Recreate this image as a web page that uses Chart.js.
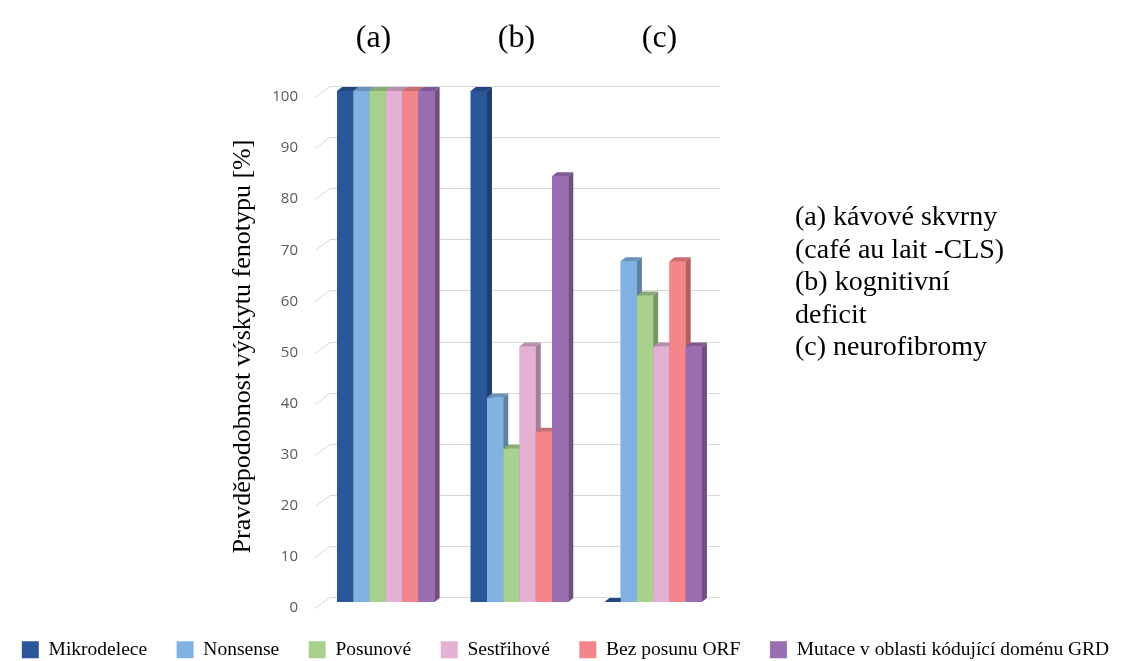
<!DOCTYPE html>
<html>
<head>
<meta charset="utf-8">
<script src="https://cdn.jsdelivr.net/npm/chart.js@4.4.1/dist/chart.umd.min.js"></script>
<style>
  html, body { margin: 0; padding: 0; background: #fff; }
</style>
</head>
<body>
<canvas id="fenotypChart" width="1131" height="661"></canvas>
<script>
// ===== data =====
const categories = ["(a)", "(b)", "(c)"];
const seriesNames = ["Mikrodelece", "Nonsense", "Posunové", "Sestřihové", "Bez posunu ORF", "Mutace v oblasti kódující doménu GRD"];
const mikrodelece = [100, 100, 0];
const nonsense = [100, 40, 66.7];
const posunove = [100, 30, 60];
const sestrihove = [100, 50, 50];
const bezPosunu = [100, 33.3, 66.7];
const mutaceGrd = [100, 83.3, 50];
const yTicks = [0, 10, 20, 30, 40, 50, 60, 70, 80, 90, 100];
const notes = ["(a) kávové skvrny", "(café au lait -CLS)", "(b) kognitivní", "deficit", "(c) neurofibromy"];

const seriesColors = ["#2b579a", "#80b3e1", "#a7d18d", "#e4b0d4", "#f4858a", "#9b6eb4"];
const serif = "'Liberation Serif', 'Times New Roman', serif";

// darker tone for the 3D faces
const shade = (hex, f) => {
  const n = parseInt(hex.slice(1), 16);
  const r = (n >> 16) & 255, g = (n >> 8) & 255, b = n & 255;
  return `rgb(${Math.round(r * f)},${Math.round(g * f)},${Math.round(b * f)})`;
};

const DX = 5, DY = 4;

// ===== plugins =====
const grid3d = {
  id: "grid3d",
  beforeDatasetsDraw(chart) {
    const { ctx, chartArea } = chart;
    const y = chart.scales.y;
    ctx.save();
    ctx.strokeStyle = "#d9d9d9";
    ctx.lineWidth = 1;
    y.ticks.forEach(t => {
      const py = Math.round(y.getPixelForValue(t.value)) + 0.5;
      ctx.beginPath();
      ctx.moveTo(chartArea.left - 4, py + 6);
      ctx.lineTo(chartArea.left + 11, py - 5);
      ctx.lineTo(chartArea.right, py - 5);
      ctx.stroke();
    });
    ctx.restore();
  }
};

// chart.js paints datasets last-to-first, so repaint them in order with depth faces
const bars3d = {
  id: "bars3d",
  afterDatasetsDraw(chart) {
    const { ctx } = chart;
    ctx.save();
    chart.data.datasets.forEach((ds, i) => {
      const col = seriesColors[i];
      chart.getDatasetMeta(i).data.forEach(bar => {
        const { x, y, base, width } = bar.getProps(["x", "y", "base", "width"], true);
        const l = x - width / 2, r = x + width / 2;
        ctx.fillStyle = col;
        ctx.fillRect(l, y, width, base - y);
        ctx.fillStyle = shade(col, 0.72);
        ctx.beginPath();
        ctx.moveTo(r, y);
        ctx.lineTo(r + DX, y - DY);
        ctx.lineTo(r + DX, base - DY);
        ctx.lineTo(r, base);
        ctx.closePath();
        ctx.fill();
        ctx.fillStyle = shade(col, 0.82);
        ctx.beginPath();
        ctx.moveTo(l, y);
        ctx.lineTo(l + DX, y - DY);
        ctx.lineTo(r + DX, y - DY);
        ctx.lineTo(r, y);
        ctx.closePath();
        ctx.fill();
      });
    });
    ctx.restore();
  }
};

const sideNotes = {
  id: "sideNotes",
  afterDraw(chart) {
    const { ctx, chartArea } = chart;
    ctx.save();
    ctx.font = `28px ${serif}`;
    ctx.fillStyle = "#000";
    ctx.textAlign = "left";
    ctx.textBaseline = "middle";
    notes.forEach((line, i) => {
      ctx.fillText(line, chartArea.right + 75, 218 + i * 32.4);
    });
    ctx.restore();
  }
};

// ===== chart =====
const values = [mikrodelece, nonsense, posunove, sestrihove, bezPosunu, mutaceGrd];

new Chart(document.getElementById("fenotypChart"), {
  type: "bar",
  data: {
    labels: categories,
    datasets: seriesNames.map((name, i) => ({
      label: name,
      data: values[i],
      backgroundColor: seriesColors[i],
      borderWidth: 0,
      xAxisID: "x",
      yAxisID: "y",
      categoryPercentage: 0.73,
      barPercentage: 1.0
    }))
  },
  options: {
    responsive: false,
    animation: false,
    layout: { padding: { top: 0, left: 0, right: 0, bottom: -8.5 } },
    plugins: {
      legend: {
        position: "bottom",
        labels: {
          boxWidth: 17,
          boxHeight: 17,
          padding: 10,
          color: "#000",
          font: { family: serif, size: 19.5 },
          generateLabels: chart => Chart.defaults.plugins.legend.labels.generateLabels(chart)
            .map((item, i, all) => ({ ...item, text: i < all.length - 1 ? item.text + "    " : item.text }))
        }
      },
      tooltip: { enabled: false }
    },
    scales: {
      x: {
        display: false
      },
      // group captions sit a little wider apart than the bar groups
      xT: {
        type: "linear",
        position: "top",
        offset: false,
        bounds: "data",
        min: -0.381,
        max: 2.423,
        afterBuildTicks: s => { s.ticks = categories.map((c, i) => ({ value: i })); },
        grid: { display: false, offset: false },
        border: { display: false },
        ticks: {
          color: "#000",
          padding: 25,
          font: { family: serif, size: 32 },
          callback: v => categories[v]
        },
        afterFit: s => { s.height = 91; }
      },
      xB: {
        type: "category",
        labels: categories,
        position: "bottom",
        display: true,
        grid: { display: false },
        border: { display: false },
        ticks: { display: false },
        afterFit: s => { s.height = 28; }
      },
      y: {
        min: 0,
        max: 100,
        afterBuildTicks: s => { s.ticks = yTicks.map(v => ({ value: v })); },
        grid: { display: false, drawTicks: false },
        border: { display: false },
        ticks: {
          color: "#595959",
          padding: 21,
          labelOffset: 6,
          font: { family: "'Open Sans', sans-serif", size: 15 }
        },
        title: {
          display: true,
          text: "Pravděpodobnost výskytu fenotypu [%]",
          color: "#000",
          padding: { top: 228, bottom: 0 },
          font: { family: serif, size: 26 }
        },
        afterFit: s => { s.width = 319; }
      },
      yR: {
        type: "linear",
        position: "right",
        display: true,
        grid: { display: false },
        border: { display: false },
        ticks: { display: false },
        afterFit: s => { s.width = 411; }
      }
    }
  },
  plugins: [grid3d, bars3d, sideNotes]
});
</script>
</body>
</html>
